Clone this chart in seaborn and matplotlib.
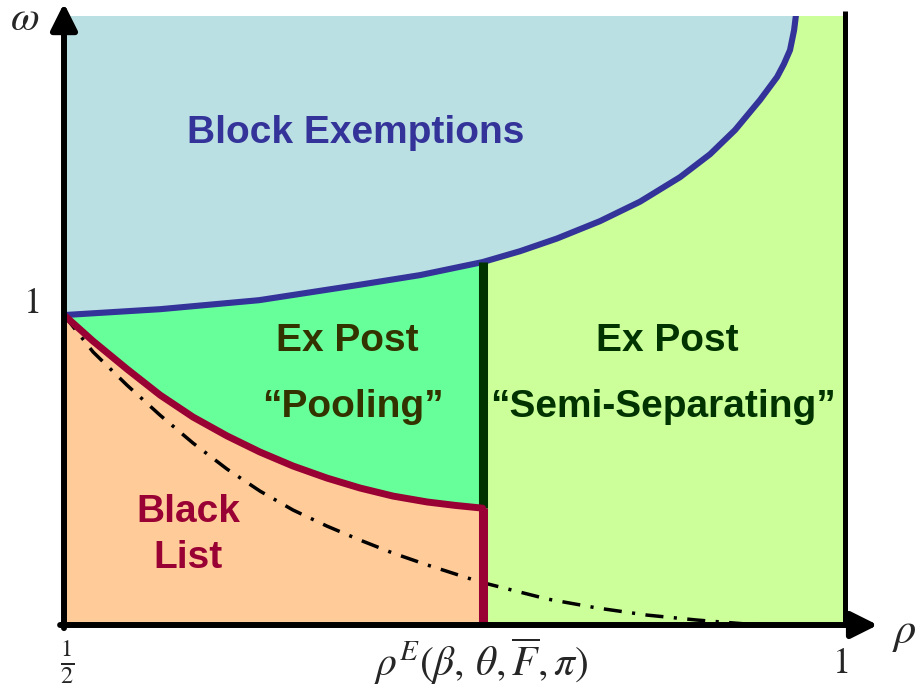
"""
Regulatory regimes in the (rho, omega) plane: block exemptions, ex post
pooling / semi-separating and the black list.
"""

import matplotlib
matplotlib.use("Agg")
import matplotlib.pyplot as plt
import seaborn as sns

# ── Data ──────────────────────────────────────────────────────────────────────
RHO_E = 0.768          # threshold rho^E(beta, theta, F, pi)
OMEGA_TOP = 1.965      # top of the drawn area

block_rho = [0.500, 0.5615, 0.6248, 0.6882, 0.728, 0.768, 0.7919, 0.8156,
             0.8431, 0.8688, 0.8944, 0.9136, 0.9296, 0.9456, 0.9565, 0.9609,
             0.9648, 0.9674, 0.9686]
block_omega = [1.000, 1.019, 1.048, 1.097, 1.129, 1.171, 1.206, 1.247,
               1.303, 1.366, 1.445, 1.519, 1.597, 1.694, 1.768, 1.810,
               1.855, 1.919, 1.968]

blacklist_rho = [0.500, 0.5186, 0.5403, 0.5615, 0.5826, 0.6044, 0.6255,
                 0.6466, 0.6684, 0.6895, 0.7106, 0.7324, 0.7503, 0.768]
blacklist_omega = [1.000, 0.916, 0.826, 0.742, 0.671, 0.610, 0.558, 0.513,
                   0.474, 0.442, 0.416, 0.397, 0.386, 0.377]

dashed_rho = [0.500, 0.5186, 0.5403, 0.5615, 0.5826, 0.6044, 0.6255, 0.6466,
              0.6684, 0.6895, 0.7106, 0.7324, 0.7663, 0.8092, 0.8412, 0.8732,
              0.9052, 0.9373, 0.9648]
dashed_omega = [1.000, 0.881, 0.774, 0.677, 0.587, 0.503, 0.432, 0.371,
                0.319, 0.274, 0.232, 0.194, 0.139, 0.084, 0.055, 0.032,
                0.016, 0.003, 0.000]

COLORS = {"block": "#BBE0E3", "block_line": "#333399",
          "pool": "#66FF99", "semi": "#CCFF99",
          "black": "#FFCC99", "black_line": "#990033",
          "pool_text": "#333300", "semi_line": "#003300"}

# ── Style ─────────────────────────────────────────────────────────────────────
sns.set_theme(style="white")
plt.rcParams.update({
    "font.family": ["Liberation Sans", "DejaVu Sans"],
    "mathtext.fontset": "stix",
    "axes.spines.top": False,
    "axes.spines.right": False,
    "axes.spines.left": False,
    "axes.spines.bottom": False,
})

fig = plt.figure(figsize=(9.18, 6.86), dpi=100)
ax = fig.add_axes([64 / 918, 61 / 686, 781 / 918, 609 / 686])
ax.set_xlim(0.5, 1.0)
ax.set_ylim(0, OMEGA_TOP)

# ── Regions ───────────────────────────────────────────────────────────────────
ax.fill_between([0.5, 1.0], 0, OMEGA_TOP, color=COLORS["semi"], lw=0, zorder=1)
ax.fill(block_rho + [0.5], block_omega + [OMEGA_TOP + 0.1],
        color=COLORS["block"], lw=0, zorder=2)
ax.fill(blacklist_rho + [RHO_E, 0.5], blacklist_omega + [0, 0],
        color=COLORS["black"], lw=0, zorder=2)
n_pool = block_rho.index(RHO_E) + 1
ax.fill(blacklist_rho + block_rho[:n_pool][::-1],
        blacklist_omega + block_omega[:n_pool][::-1],
        color=COLORS["pool"], lw=0, zorder=2)

# ── Boundaries ────────────────────────────────────────────────────────────────
sns.lineplot(x=dashed_rho, y=dashed_omega, ax=ax, color="black", lw=2.5,
             linestyle=(0, (5.2, 3.0, 0.9, 3.0)), estimator=None, sort=False,
             zorder=3)
sns.lineplot(x=block_rho, y=block_omega, ax=ax, color=COLORS["block_line"],
             lw=4.4, estimator=None, sort=False, zorder=4)
ax.vlines(RHO_E, blacklist_omega[-1], block_omega[n_pool - 1],
          color=COLORS["semi_line"], lw=6.5, zorder=4)
sns.lineplot(x=blacklist_rho, y=blacklist_omega, ax=ax,
             color=COLORS["black_line"], lw=5, estimator=None, sort=False,
             zorder=5)
ax.vlines(RHO_E, 0, blacklist_omega[-1], color=COLORS["black_line"], lw=6.5,
          zorder=5)

# right border and axes with arrows
ax.plot([1.0, 1.0], [0.01, 1.981], color="black", lw=3.6, clip_on=False,
        zorder=6, solid_capstyle="butt")
arrow = dict(arrowstyle="-|>,head_length=0.8,head_width=0.4", lw=4.3,
             color="black", mutation_scale=20, shrinkA=0, shrinkB=0)
ax.annotate("", xy=(0.5, 2.006), xytext=(0.5, -0.01), arrowprops=arrow,
            annotation_clip=False, zorder=7)
ax.annotate("", xy=(1.021, 0.0), xytext=(0.4975, 0.0), arrowprops=arrow,
            annotation_clip=False, zorder=7)

# ── Ticks and axis labels ─────────────────────────────────────────────────────
ax.set_xticks([])
ax.set_yticks([])
ax.set_xlabel("")
ax.set_ylabel("")
ax.text(0.5022, -0.12, r"$\frac{1}{2}$", fontsize=25, ha="center", va="center")
ax.text(RHO_E - 0.001, -0.117, r"$\rho^E(\beta,\,\theta,\overline{F},\pi)$",
        fontsize=30, ha="center", va="center")
ax.text(0.9968, -0.155, r"$1$", fontsize=26, ha="center", va="baseline")
ax.text(0.4791, 1.006, r"$1$", fontsize=26, ha="center", va="baseline")
ax.text(0.475, 1.955, r"$\omega$", fontsize=30, ha="center", va="center")
ax.text(1.038, -0.026, r"$\rho$", fontsize=32, ha="center", va="center")

# ── Region labels ─────────────────────────────────────────────────────────────
label_kw = dict(fontsize=28, fontweight="bold", ha="center", va="baseline",
                zorder=8)
ax.text(0.6866, 1.555, "Block Exemptions", color=COLORS["block_line"], **label_kw)
ax.text(0.6815, 0.884, "Ex Post", color=COLORS["pool_text"], **label_kw)
ax.text(0.6847, 0.671, "\u201cPooling\u201d", color=COLORS["pool_text"], **label_kw)
ax.text(0.8860, 0.884, "Ex Post", color=COLORS["semi_line"], **label_kw)
ax.text(0.8838, 0.671, "\u201cSemi-Separating\u201d", color=COLORS["semi_line"],
        **label_kw)
ax.text(0.5794, 0.332, "Black", color=COLORS["black_line"], **label_kw)
ax.text(0.5797, 0.184, "List", color=COLORS["black_line"], **label_kw)

fig.savefig("out.png", dpi=100)
